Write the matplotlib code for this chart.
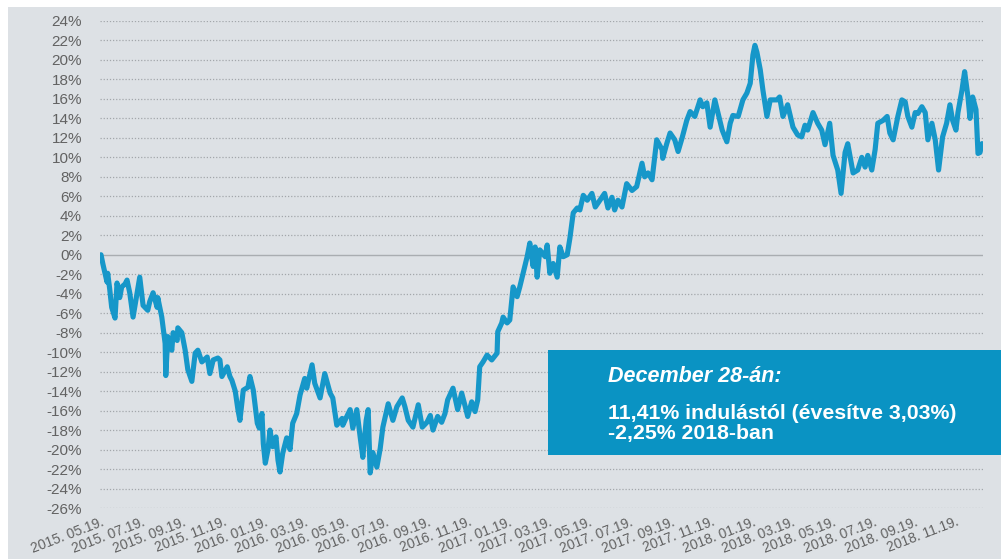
import matplotlib
matplotlib.use("Agg")
import matplotlib.pyplot as plt
from matplotlib.patches import Rectangle
from matplotlib.ticker import FixedLocator, FuncFormatter
import pandas as pd

plt.rcParams['font.family'] = ['Liberation Sans', 'DejaVu Sans']

start_date = "2015-05-19"
end_date = "2018-12-28"

day_offsets = [
    0, 3, 6, 9, 10, 13, 16, 21, 24, 28, 31, 36, 39, 43, 48, 54, 58, 63, 70, 73,
    78, 84, 85, 91, 96, 97, 100, 106, 108, 114, 115, 121, 126, 130, 136, 141, 145, 151, 159, 163,
    168, 175, 178, 181, 189, 193, 196, 201, 205, 208, 213, 220, 223, 228, 234, 237, 241, 243, 246, 250,
    253, 257, 262, 265, 268, 272, 278, 283, 287, 293, 298, 305, 308, 316, 320, 328, 335, 343, 347, 353,
    361, 362, 368, 373, 377, 383, 388, 392, 397, 400, 403, 407, 413, 418, 422, 430, 437, 443, 451, 455,
    460, 467, 475, 481, 488, 493, 497, 504, 510, 515, 519, 527, 534, 540, 545, 549, 555, 560, 564, 567,
    572, 578, 585, 593, 594, 600, 602, 608, 612, 617, 623, 627, 632, 638, 642, 647, 650, 653, 657, 665,
    668, 672, 677, 683, 687, 692, 698, 702, 707, 713, 717, 722, 728, 735, 740, 747, 754, 759, 765, 769,
    774, 780, 787, 795, 802, 810, 814, 819, 825, 832, 840, 841, 847, 852, 859, 864, 870, 877, 882, 889,
    897, 901, 907, 912, 919, 924, 930, 937, 942, 946, 954, 961, 967, 972, 976, 979, 982, 987, 991, 997,
    1002, 1012, 1016, 1021, 1028, 1036, 1043, 1049, 1054, 1058, 1066, 1073, 1079, 1084, 1091, 1096, 1103, 1108, 1114, 1118,
    1126, 1133, 1139, 1144, 1148, 1154, 1159, 1163, 1171, 1177, 1181, 1186, 1193, 1199, 1204, 1208, 1214, 1219, 1223, 1229,
    1234, 1238, 1244, 1249, 1254, 1260, 1266, 1271, 1275, 1280, 1283, 1289, 1293, 1298, 1301, 1305, 1310, 1313, 1316, 1319,
]

returns_pct = [
    0.0, -1.0, -1.9, -2.8, -1.9, -3.5, -5.4, -6.5, -2.9, -4.4, -3.3, -3.0, -2.6, -3.9, -6.4, -3.9, -2.3, -5.2, -5.7, -4.8,
    -3.9, -5.4, -4.4, -6.4, -9.1, -12.4, -8.4, -9.8, -8.0, -8.8, -7.5, -8.0, -9.8, -11.8, -13.0, -10.1, -9.8, -11.0, -10.5, -12.2,
    -10.8, -10.6, -10.8, -12.5, -11.5, -12.5, -12.9, -14.0, -15.9, -17.0, -13.9, -13.6, -12.5, -13.9, -17.3, -17.8, -16.3, -19.4, -21.4, -20.0,
    -18.0, -19.7, -18.7, -21.1, -22.3, -20.4, -18.8, -20.0, -17.3, -16.3, -14.4, -12.7, -13.7, -11.3, -13.2, -14.7, -12.2, -14.2, -14.7, -17.5,
    -16.8, -17.5, -16.6, -15.9, -17.8, -15.9, -18.7, -20.8, -17.0, -15.9, -22.4, -20.3, -21.8, -19.9, -17.7, -15.3, -17.0, -15.6, -14.7, -15.6,
    -17.0, -17.7, -15.4, -17.7, -17.2, -16.5, -18.0, -16.6, -17.2, -16.3, -14.9, -13.7, -15.9, -14.2, -15.5, -16.6, -15.1, -16.1, -14.9, -11.5,
    -11.0, -10.3, -10.8, -10.1, -7.9, -7.0, -6.4, -7.0, -6.7, -3.3, -4.3, -3.3, -1.9, -0.2, 1.2, -1.2, 0.8, -2.3, 0.5, -0.2,
    1.0, -1.9, -0.9, -2.3, 0.8, -0.2, 0.0, 1.7, 4.3, 4.8, 4.6, 6.1, 5.6, 6.3, 4.9, 5.6, 6.3, 4.8, 5.9, 4.6,
    5.6, 4.9, 7.3, 6.6, 7.0, 9.4, 8.0, 8.4, 7.7, 11.8, 10.8, 9.9, 11.4, 12.5, 11.8, 10.6, 12.0, 13.8, 14.7, 14.2,
    15.9, 15.2, 15.6, 13.1, 15.9, 14.5, 12.8, 11.6, 13.5, 14.3, 14.2, 15.9, 16.6, 17.6, 20.5, 21.5, 20.8, 19.0, 16.9, 14.2,
    15.9, 15.9, 16.2, 14.2, 15.4, 13.1, 12.3, 12.1, 13.3, 12.8, 14.6, 13.5, 12.8, 11.3, 13.5, 10.2, 8.7, 6.3, 10.5, 11.4,
    8.4, 8.7, 10.0, 9.0, 10.2, 8.7, 10.8, 13.5, 13.8, 14.2, 12.5, 11.8, 14.2, 15.9, 15.7, 14.2, 13.1, 14.6, 14.5, 15.2,
    14.6, 11.8, 13.5, 11.8, 8.7, 12.1, 13.5, 15.4, 13.8, 12.8, 14.6, 16.9, 18.8, 16.2, 14.0, 16.2, 14.9, 10.4, 10.5, 11.41,
]

x_tick_dates = pd.date_range("2015-05-01", "2018-11-01", freq="2MS") + pd.Timedelta(days=18)
y_ticks = list(range(-26, 25, 2))

box_title = "December 28-án:"
box_lines = ["11,41% indulástól (évesítve 3,03%)", "-2,25% 2018-ban"]

dates = pd.Timestamp(start_date) + pd.to_timedelta(day_offsets, unit="D")

W, H = 1001, 559
fig = plt.figure(figsize=(W / 100, H / 100), dpi=100)
fig.patch.set_facecolor("white")
bg = Rectangle((8 / W, 0), 1 - 8 / W, 1 - 7 / H, transform=fig.transFigure,
               facecolor="#dde1e5", edgecolor="none", zorder=-10)
fig.patches.append(bg)

ax_left, ax_right = 100 / W, 983 / W
ax_top, ax_bot = 1 - 21 / H, 1 - 508 / H
ax = fig.add_axes([ax_left, ax_bot, ax_right - ax_left, ax_top - ax_bot])
ax.set_facecolor("none")
ax.set_zorder(1)

ax.plot(dates, returns_pct, color="#1697c9", lw=3.7, solid_joinstyle="round",
        solid_capstyle="round", zorder=3)

ax.set_ylim(-26, 24)
ax.set_xlim(pd.Timestamp(start_date) - pd.Timedelta(days=1.5), pd.Timestamp(end_date) + pd.Timedelta(days=1.5))

for s in ax.spines.values():
    s.set_visible(False)

ax.yaxis.set_major_locator(FixedLocator(y_ticks))
ax.yaxis.set_major_formatter(FuncFormatter(lambda v, p: f"{int(round(v))}%"))
for t in y_ticks:
    if t == 0:
        ax.axhline(0, color="#a9adb1", lw=1.0, zorder=1)
    else:
        ax.axhline(t, color="#a3a7ab", lw=0.9, ls=(0, (1, 1.5)), zorder=1)

ax.tick_params(axis="y", length=0, pad=13, labelsize=11, labelcolor="#626262")
ax.set_xticks(x_tick_dates)
ax.set_xticklabels([d.strftime("%Y. %m.%d.") for d in x_tick_dates])
ax.tick_params(axis="x", length=0, pad=5, labelsize=10, labelcolor="#626262")
for lbl in ax.get_xticklabels():
    lbl.set_rotation(21)
    lbl.set_ha("right")
    lbl.set_va("top")
    lbl.set_rotation_mode("anchor")

# info box
box = Rectangle((548 / W, 1 - 455 / H), 1 - 548 / W, 105 / H, transform=fig.transFigure,
                facecolor="#0a93c3", edgecolor="none", zorder=5)
fig.patches.append(box)
fig.text(608 / W, 1 - 382 / H, box_title, color="white", fontsize=15.5, fontweight="bold",
         fontstyle="italic", zorder=6, va="baseline")
fig.text(608 / W, 1 - 419 / H, box_lines[0], color="white", fontsize=15.3, fontweight="bold",
         zorder=6, va="baseline")
fig.text(608 / W, 1 - 439 / H, box_lines[1], color="white", fontsize=15.3, fontweight="bold",
         zorder=6, va="baseline")

fig.savefig("out.png", dpi=100, facecolor=fig.get_facecolor())
